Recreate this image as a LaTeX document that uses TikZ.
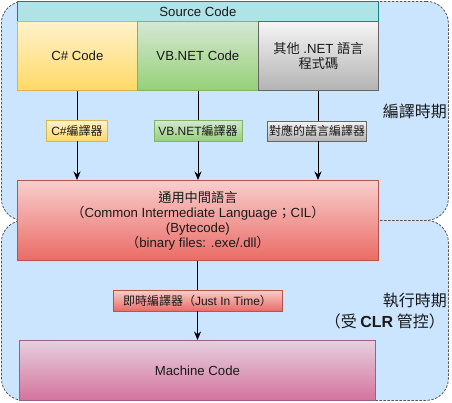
\documentclass[tikz,border=0pt]{standalone}
\usepackage{fontspec}
\setmainfont{Liberation Sans}
\newfontfamily\cjk{Noto Sans CJK TC}
\usetikzlibrary{arrows.meta}
\definecolor{regfill}{HTML}{CCE5FF}
\definecolor{regline}{HTML}{555555}
\definecolor{hdrfill}{HTML}{B0E3E6}
\definecolor{hdrline}{HTML}{0E8088}
\definecolor{ytop}{HTML}{FFF2CC}
\definecolor{ybot}{HTML}{FFD966}
\definecolor{yline}{HTML}{D6B656}
\definecolor{gtop}{HTML}{D5E8D4}
\definecolor{gbot}{HTML}{97D077}
\definecolor{gline}{HTML}{82B366}
\definecolor{stop}{HTML}{F5F5F5}
\definecolor{sbot}{HTML}{B3B3B3}
\definecolor{sline}{HTML}{666666}
\definecolor{rtop}{HTML}{F8CECC}
\definecolor{rbot}{HTML}{EA6B66}
\definecolor{rline}{HTML}{B85450}
\definecolor{ptop}{HTML}{E6D0DE}
\definecolor{pbot}{HTML}{D5739D}
\definecolor{pline}{HTML}{996185}
\definecolor{txt}{HTML}{1A1A1A}
\begin{document}
\begin{tikzpicture}[x=1pt,y=-1pt,font=\fontsize{13.2}{15}\selectfont]
\useasboundingbox (0,0) rectangle (452,402);
\tikzset{
  region/.style={draw=regline,fill=regfill,dash pattern=on 2.5pt off 1.5pt,rounded corners=22pt,line width=0.8pt,inner sep=0pt,anchor=north west},
  box/.style={draw,inner sep=0pt,align=center,text=txt,line width=0.8pt,anchor=north west},
  yel/.style={top color=ytop,bottom color=ybot,draw=yline},
  grn/.style={top color=gtop,bottom color=gbot,draw=gline},
  gry/.style={top color=stop,bottom color=sbot,draw=sline},
  red/.style={top color=rtop,bottom color=rbot,draw=rline},
  pnk/.style={top color=ptop,bottom color=pbot,draw=pline},
  lbl/.style={draw,inner sep=0pt,text=txt,line width=0.8pt,minimum height=21pt,font=\fontsize{12}{14}\selectfont},
  conn/.style={-{Stealth[length=8.5pt,width=7pt]},line width=0.8pt},
  seg/.style={line width=0.8pt},
  side/.style={text=txt,font=\cjk\fontsize{16}{21}\selectfont,inner sep=0pt}
}
% regions
\node[region,minimum width=447pt,minimum height=219pt] (compreg) at (1,1) {};
\node[region,minimum width=447pt,minimum height=180pt] (runreg) at (1,220) {};
% source code header and boxes
\node[box,fill=hdrfill,draw=hdrline,minimum width=361pt,minimum height=20pt] (hdr) at (17,1) {Source Code};
\node[box,yel,minimum width=120pt,minimum height=69pt] (cs) at (17,21) {C\# Code};
\node[box,grn,minimum width=121pt,minimum height=69pt] (vb) at (137,21) {VB.NET Code};
\node[box,gry,minimum width=120pt,minimum height=69pt] (oth) at (258,21) {{\cjk 其他} .NET {\cjk 語言}\\{\cjk 程式碼}};
% CIL
\node[box,red,minimum width=361pt,minimum height=80pt] (cil) at (17,180) {{\cjk 通用中間語言}\\{\cjk （}Common Intermediate Language{\cjk ；}CIL{\cjk ）}\\(Bytecode)\\{\cjk （}binary files: .exe/.dll{\cjk ）}};
% machine code
\node[box,pnk,minimum width=356pt,minimum height=60pt] (mc) at (19,340) {Machine Code};
% compiler labels
\node[lbl,yel,minimum width=61pt] (l1) at (77,130.5) {C\#{\cjk 編譯器}};
\node[lbl,grn,minimum width=88pt] (l2) at (198,130.5) {VB.NET{\cjk 編譯器}};
\node[lbl,gry,minimum width=99pt,minimum height=20pt] (l3) at (317,131) {\cjk 對應的語言編譯器};
\node[lbl,red,minimum width=169pt] (jit) at (197.5,300.5) {{\cjk 即時編譯器（}Just In Time{\cjk ）}};
% connectors
\draw[seg] (l1.north |- cs.south) -- (l1.north);
\draw[conn] (l1.south) -- (l1.south |- cil.north);
\draw[seg] (l2.north |- vb.south) -- (l2.north);
\draw[conn] (l2.south) -- (l2.south |- cil.north);
\coordinate (c3) at (318,0);
\draw[seg] (c3 |- oth.south) -- (c3 |- l3.north);
\draw[conn] (c3 |- l3.south) -- (c3 |- cil.north);
\draw[seg] (jit.north |- cil.south) -- (jit.north);
\draw[conn] (jit.south) -- (jit.south |- mc.north);
% side labels
\node[side,anchor=east] (ct) at (447,111) {編譯時期};
\node[side,anchor=east] (rt) at (447,300) {執行時期};
\node[side,anchor=east] (rt2) at (445,321) {（受 {\fontspec{Liberation Sans}\bfseries CLR} 管控）};
\end{tikzpicture}
\end{document}
